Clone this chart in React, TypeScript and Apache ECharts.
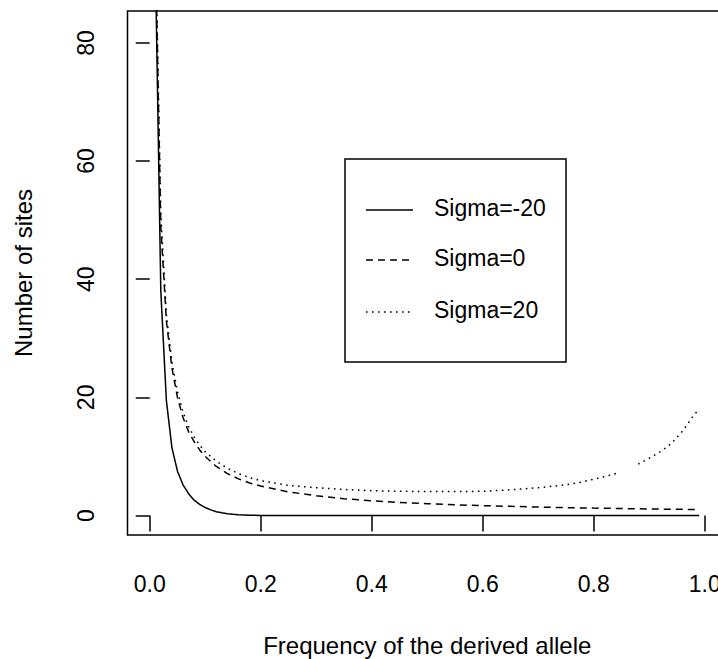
import React, { useEffect, useRef } from "react";
import * as echarts from "echarts";

const seriesNames = ["Sigma=-20", "Sigma=0", "Sigma=20"];

const xTicks = [0, 0.2, 0.4, 0.6, 0.8, 1.0];
const yTicks = [0, 20, 40, 60, 80];

const freqNeg20 = [0.01, 0.02, 0.03, 0.04, 0.05, 0.06, 0.07, 0.08, 0.09, 0.10, 0.11, 0.12, 0.13, 0.14, 0.15, 0.16, 0.18, 0.20, 0.30, 0.40, 0.50, 0.60, 0.70, 0.80, 0.90, 0.99];
const sitesNeg20 = [95, 38, 19.5, 11.5, 7.5, 5.2, 3.7, 2.6, 1.9, 1.35, 0.95, 0.65, 0.45, 0.3, 0.2, 0.12, 0.05, 0.02, 0, 0, 0, 0, 0, 0, 0, 0];

const freqZero = [0.01, 0.02, 0.03, 0.04, 0.05, 0.06, 0.07, 0.08, 0.09, 0.10, 0.12, 0.14, 0.16, 0.18, 0.20, 0.25, 0.30, 0.35, 0.40, 0.45, 0.50, 0.55, 0.60, 0.65, 0.70, 0.75, 0.80, 0.85, 0.90, 0.95, 0.99];
const sitesZero = [98, 49, 33, 25, 20, 16.6, 14.2, 12.5, 11.1, 10, 8.3, 7.1, 6.2, 5.5, 5, 4, 3.35, 2.85, 2.5, 2.2, 2, 1.8, 1.67, 1.55, 1.43, 1.33, 1.25, 1.18, 1.11, 1.05, 1.01];

const freqPos20 = [0.01, 0.02, 0.03, 0.04, 0.05, 0.06, 0.07, 0.08, 0.09, 0.10, 0.12, 0.14, 0.16, 0.18, 0.20, 0.25, 0.30, 0.35, 0.40, 0.45, 0.50, 0.55, 0.60, 0.65, 0.70, 0.75, 0.78, 0.82, 0.84, 0.86, 0.88, 0.90, 0.92, 0.94, 0.96, 0.97, 0.98, 0.99];
const sitesPos20 = [100, 51, 34, 26, 21, 17.5, 15.1, 13.3, 11.9, 10.8, 9.2, 8, 7.1, 6.4, 5.9, 5.1, 4.7, 4.4, 4.2, 4.1, 4.05, 4.05, 4.1, 4.35, 4.7, 5.2, 5.7, 6.6, 7.1, null, 8.7, 9.7, 10.8, 12.2, 14.3, 15.6, 17, 18];

const FONT = "Liberation Sans, Arial, Helvetica, sans-serif";

function pairs(xs: number[], ys: (number | null)[]) {
  return xs.map((x, i) => [x, ys[i] === null ? "-" : ys[i]]);
}

export default function App() {
  const ref = useRef<HTMLDivElement>(null);
  useEffect(() => {
    if (!ref.current) return;
    const chart = echarts.init(ref.current, null, { renderer: "svg" });
    const dashTypes: any[] = ["solid", [7, 5], [1.6, 4.4]];
    const legendGraphic: any[] = [
      {
        type: "rect",
        shape: { x: 345, y: 159, width: 221, height: 203 },
        style: { fill: "#fff", stroke: "#000", lineWidth: 1.5 },
        z: 100,
      },
    ];
    const legendY = [210, 260, 312];
    seriesNames.forEach((name, i) => {
      legendGraphic.push({
        type: "line",
        shape: { x1: 366, y1: legendY[i], x2: 413, y2: legendY[i] },
        style: { stroke: "#000", lineWidth: 1.5, lineDash: dashTypes[i] === "solid" ? null : dashTypes[i] },
        z: 101,
      });
      legendGraphic.push({
        type: "text",
        x: 434,
        y: legendY[i] - 2,
        style: { text: name, fill: "#000", font: `23px ${FONT}`, textVerticalAlign: "middle", textAlign: "left" },
        z: 101,
      });
    });

    const mk = (name: string, data: any[], dash: any) => ({
      name,
      type: "line",
      data,
      showSymbol: false,
      symbol: "none",
      clip: true,
      lineStyle: { color: "#000", width: 1.5, type: dash },
      emphasis: { disabled: true },
    });

    chart.setOption({
      animation: false,
      backgroundColor: "#fff",
      textStyle: { fontFamily: FONT },
      grid: {
        left: 127.5,
        top: 11,
        right: -9,
        bottom: 124,
        outerBoundsMode: "none",
        containLabel: false,
        show: true,
        borderColor: "#000",
        borderWidth: 1.5,
        backgroundColor: "#fff",
      },
      xAxis: {
        type: "value",
        min: -0.04,
        max: 1.04,
        name: "Frequency of the derived allele",
        nameLocation: "middle",
        nameGap: 98,
        nameTextStyle: { color: "#000", fontSize: 24, fontFamily: FONT },
        axisLine: { show: false },
        splitLine: { show: false },
        axisTick: { show: true, customValues: xTicks, length: 16, lineStyle: { color: "#000", width: 1.5 } },
        axisLabel: {
          customValues: xTicks,
          formatter: (v: number) => v.toFixed(1),
          color: "#000",
          fontSize: 23,
          margin: 37,
          fontFamily: FONT,
        },
      },
      yAxis: {
        type: "value",
        min: -3.3,
        max: 85.4,
        name: "Number of sites",
        nameLocation: "middle",
        nameGap: 92,
        nameRotate: 90,
        nameTextStyle: { color: "#000", fontSize: 24, fontFamily: FONT },
        axisLine: { show: false },
        splitLine: { show: false },
        axisTick: { show: true, customValues: yTicks, length: 14, lineStyle: { color: "#000", width: 1.5 } },
        axisLabel: {
          customValues: yTicks,
          formatter: (v: number) => String(v),
          rotate: 90,
          color: "#000",
          fontSize: 23,
          margin: 30,
          fontFamily: FONT,
        },
      },
      series: [
        mk(seriesNames[0], pairs(freqNeg20, sitesNeg20), "solid"),
        mk(seriesNames[1], pairs(freqZero, sitesZero), [7, 5]),
        mk(seriesNames[2], pairs(freqPos20, sitesPos20), [1.6, 4.4]),
      ],
      graphic: legendGraphic,
    });
    return () => chart.dispose();
  }, []);
  return <div ref={ref} style={{ position: "fixed", left: 0, top: 0, width: 718, height: 659 }} />;
}
